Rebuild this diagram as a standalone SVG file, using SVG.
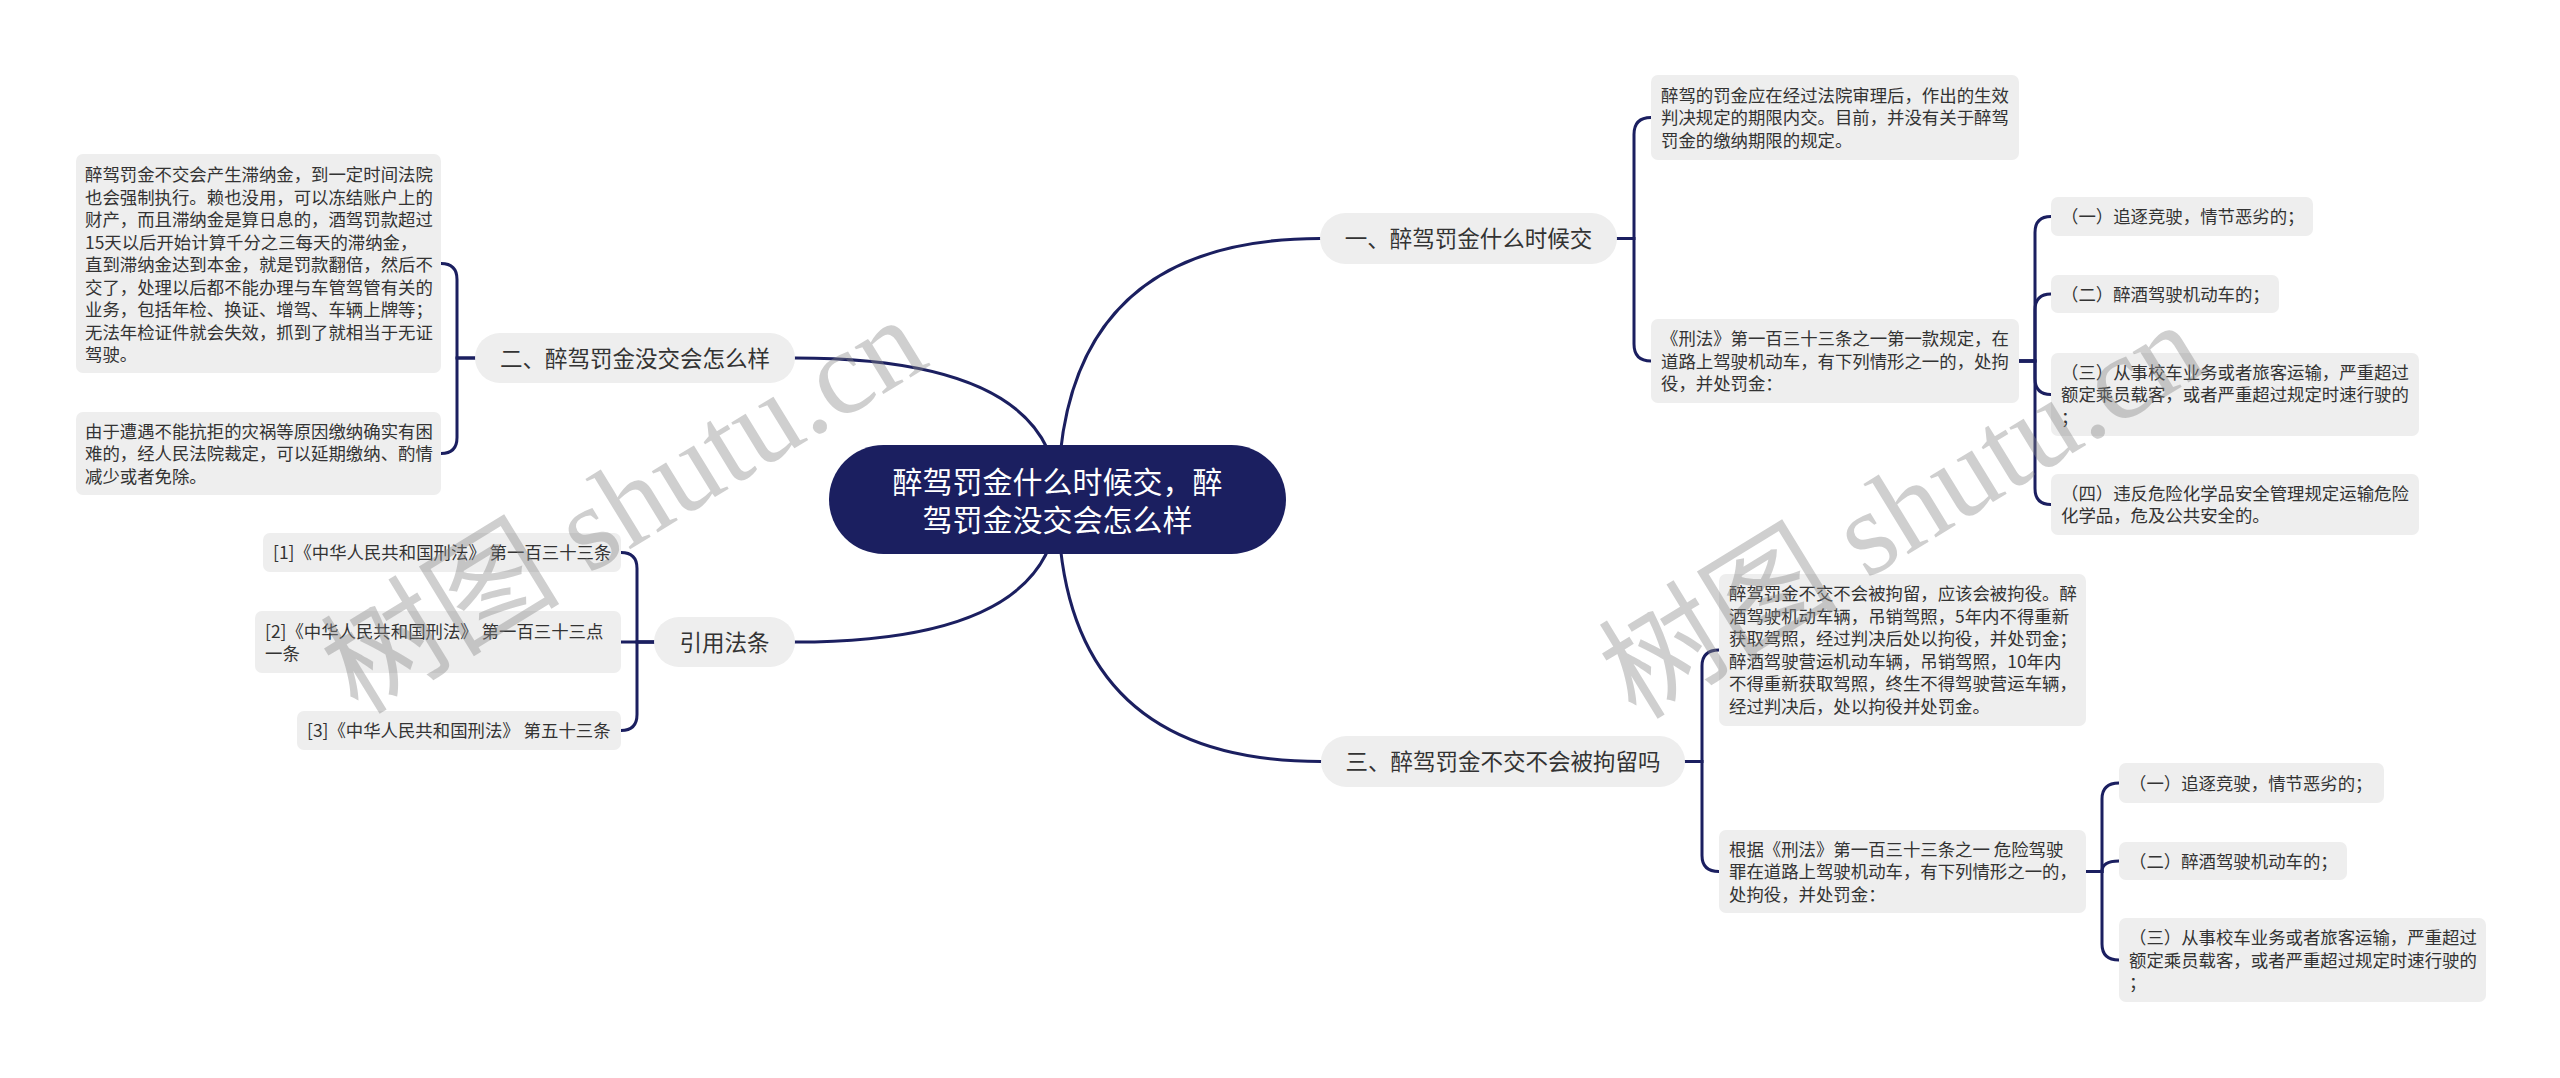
<svg xmlns="http://www.w3.org/2000/svg" width="2560" height="1078" viewBox="0 0 2560 1078">
<style>
.bg{fill:#ffffff}
.root{fill:#1b1f60}
.rt{fill:#ffffff;font-family:"Noto Sans CJK SC",sans-serif;font-size:30px;text-anchor:middle}
.l1{fill:#eeeeee}
.l1t{fill:#333333;font-family:"Noto Sans CJK SC",sans-serif;font-size:22.5px;text-anchor:middle}
.box{fill:#eeeeee}
.bt{fill:#333333;font-family:"Noto Sans CJK SC",sans-serif;font-size:17.4px}
.ln{fill:none;stroke:#1b1f60;stroke-width:3;stroke-linecap:round}
.wm{fill:#888888;opacity:0.4;font-family:"Liberation Serif","Noto Sans CJK SC",serif;font-size:120px;text-anchor:middle}
</style>
<rect class="bg" x="0" y="0" width="2560" height="1078"/>
<g id="connectors">
<path class="ln" d="M 1058,500 Q 1058,238.5 1320,238.5"/>
<path class="ln" d="M 1058,500 Q 1058,358 795,358"/>
<path class="ln" d="M 1058,500 Q 1058,642 795,642"/>
<path class="ln" d="M 1058,500 Q 1058,761.5 1321,761.5"/>
<path class="ln" d="M 1617,238.5 H 1634 V 134.5 Q 1634,117.5 1651,117.5"/>
<path class="ln" d="M 1617,238.5 H 1634 V 344 Q 1634,361 1651,361"/>
<path class="ln" d="M 2019,361 H 2035 V 232.5 Q 2035,216.5 2051,216.5"/>
<path class="ln" d="M 2019,361 H 2035 V 310 Q 2035,294 2051,294"/>
<path class="ln" d="M 2019,361 H 2035 V 378.5 Q 2035,394.5 2051,394.5"/>
<path class="ln" d="M 2019,361 H 2035 V 488.5 Q 2035,504.5 2051,504.5"/>
<path class="ln" d="M 475,358 H 457 V 279.5 Q 457,263.5 441,263.5"/>
<path class="ln" d="M 475,358 H 457 V 437.5 Q 457,453.5 441,453.5"/>
<path class="ln" d="M 654,642 H 637 V 568.5 Q 637,552.5 621,552.5"/>
<path class="ln" d="M 654,642 H 621"/>
<path class="ln" d="M 654,642 H 637 V 714.5 Q 637,730.5 621,730.5"/>
<path class="ln" d="M 1685,761.5 H 1702 V 666 Q 1702,650 1719,650"/>
<path class="ln" d="M 1685,761.5 H 1702 V 855.5 Q 1702,871.5 1719,871.5"/>
<path class="ln" d="M 2086,871.5 H 2102 V 799 Q 2102,783 2119,783"/>
<path class="ln" d="M 2086,871.5 H 2102 Q 2102,861 2119,861"/>
<path class="ln" d="M 2086,871.5 H 2102 V 944 Q 2102,960 2119,960"/>
</g>
<g id="root">
<rect class="root" x="829" y="445" width="457" height="109" rx="54.5"/>
<text class="rt"><tspan x="1057.5" y="493.4">醉驾罚金什么时候交，醉</tspan><tspan x="1057.5" y="531.4">驾罚金没交会怎么样</tspan></text>
</g>
<g id="n1">
<rect class="l1" x="1320" y="213" width="297" height="51" rx="25.5"/>
<text class="l1t" x="1468.5" y="247">一、醉驾罚金什么时候交</text>
</g>
<g id="n2">
<rect class="l1" x="475" y="333" width="320" height="50" rx="25"/>
<text class="l1t" x="635" y="366.5">二、醉驾罚金没交会怎么样</text>
</g>
<g id="n3">
<rect class="l1" x="654" y="617" width="141" height="50" rx="25"/>
<text class="l1t" x="724.5" y="650.5">引用法条</text>
</g>
<g id="n4">
<rect class="l1" x="1321" y="736" width="364" height="51" rx="25.5"/>
<text class="l1t" x="1503" y="770">三、醉驾罚金不交不会被拘留吗</text>
</g>
<g id="n1a">
<rect class="box" x="1651" y="75" width="368" height="85" rx="7"/>
<text class="bt"><tspan x="1661" y="101.6">醉驾的罚金应在经过法院审理后，作出的生效</tspan><tspan x="1661" y="124.1">判决规定的期限内交。目前，并没有关于醉驾</tspan><tspan x="1661" y="146.6">罚金的缴纳期限的规定。</tspan></text>
</g>
<g id="n1b">
<rect class="box" x="1651" y="319" width="368" height="84" rx="7"/>
<text class="bt"><tspan x="1661" y="345.1">《刑法》第一百三十三条之一第一款规定，在</tspan><tspan x="1661" y="367.6">道路上驾驶机动车，有下列情形之一的，处拘</tspan><tspan x="1661" y="390.1">役，并处罚金：</tspan></text>
</g>
<g id="n1b1">
<rect class="box" x="2051" y="197" width="262" height="39" rx="7"/>
<text class="bt" x="2061" y="223.1">（一）追逐竞驶，情节恶劣的；</text>
</g>
<g id="n1b2">
<rect class="box" x="2051" y="275" width="228" height="38" rx="7"/>
<text class="bt" x="2061" y="300.6">（二）醉酒驾驶机动车的；</text>
</g>
<g id="n1b3">
<rect class="box" x="2051" y="353" width="368" height="83" rx="7"/>
<text class="bt"><tspan x="2061" y="378.6">（三）从事校车业务或者旅客运输，严重超过</tspan><tspan x="2061" y="401.1">额定乘员载客，或者严重超过规定时速行驶的</tspan><tspan x="2061" y="423.6">；</tspan></text>
</g>
<g id="n1b4">
<rect class="box" x="2051" y="474" width="368" height="61" rx="7"/>
<text class="bt"><tspan x="2061" y="499.9">（四）违反危险化学品安全管理规定运输危险</tspan><tspan x="2061" y="522.4">化学品，危及公共安全的。</tspan></text>
</g>
<g id="n2a">
<rect class="box" x="76" y="154" width="365" height="219" rx="7"/>
<text class="bt"><tspan x="85" y="181.1">醉驾罚金不交会产生滞纳金，到一定时间法院</tspan><tspan x="85" y="203.6">也会强制执行。赖也没用，可以冻结账户上的</tspan><tspan x="85" y="226.1">财产，而且滞纳金是算日息的，酒驾罚款超过</tspan><tspan x="85" y="248.6">15天以后开始计算千分之三每天的滞纳金，</tspan><tspan x="85" y="271.1">直到滞纳金达到本金，就是罚款翻倍，然后不</tspan><tspan x="85" y="293.6">交了，处理以后都不能办理与车管驾管有关的</tspan><tspan x="85" y="316.1">业务，包括年检、换证、增驾、车辆上牌等；</tspan><tspan x="85" y="338.6">无法年检证件就会失效，抓到了就相当于无证</tspan><tspan x="85" y="361.1">驾驶。</tspan></text>
</g>
<g id="n2b">
<rect class="box" x="76" y="412" width="365" height="83" rx="7"/>
<text class="bt"><tspan x="85" y="437.6">由于遭遇不能抗拒的灾祸等原因缴纳确实有困</tspan><tspan x="85" y="460.1">难的，经人民法院裁定，可以延期缴纳、酌情</tspan><tspan x="85" y="482.6">减少或者免除。</tspan></text>
</g>
<g id="n3a">
<rect class="box" x="263" y="533" width="358" height="39" rx="7"/>
<text class="bt" x="273" y="559.1">[1]《中华人民共和国刑法》 第一百三十三条</text>
</g>
<g id="n3b">
<rect class="box" x="255" y="611" width="366" height="62" rx="7"/>
<text class="bt"><tspan x="265" y="637.6">[2]《中华人民共和国刑法》 第一百三十三点</tspan><tspan x="265" y="660.1">一条</tspan></text>
</g>
<g id="n3c">
<rect class="box" x="297" y="711" width="324" height="39" rx="7"/>
<text class="bt" x="307" y="737.1">[3]《中华人民共和国刑法》 第五十三条</text>
</g>
<g id="n4a">
<rect class="box" x="1719" y="574" width="367" height="152" rx="7"/>
<text class="bt"><tspan x="1729" y="600.4">醉驾罚金不交不会被拘留，应该会被拘役。醉</tspan><tspan x="1729" y="622.9">酒驾驶机动车辆，吊销驾照，5年内不得重新</tspan><tspan x="1729" y="645.4">获取驾照，经过判决后处以拘役，并处罚金；</tspan><tspan x="1729" y="667.9">醉酒驾驶营运机动车辆，吊销驾照，10年内</tspan><tspan x="1729" y="690.4">不得重新获取驾照，终生不得驾驶营运车辆，</tspan><tspan x="1729" y="712.9">经过判决后，处以拘役并处罚金。</tspan></text>
</g>
<g id="n4b">
<rect class="box" x="1719" y="830" width="367" height="83" rx="7"/>
<text class="bt"><tspan x="1729" y="855.6">根据《刑法》第一百三十三条之一 危险驾驶</tspan><tspan x="1729" y="878.1">罪在道路上驾驶机动车，有下列情形之一的，</tspan><tspan x="1729" y="900.6">处拘役，并处罚金：</tspan></text>
</g>
<g id="n4b1">
<rect class="box" x="2119" y="763" width="265" height="40" rx="7"/>
<text class="bt" x="2129" y="789.6">（一）追逐竞驶，情节恶劣的；</text>
</g>
<g id="n4b2">
<rect class="box" x="2119" y="842" width="228" height="38" rx="7"/>
<text class="bt" x="2129" y="867.6">（二）醉酒驾驶机动车的；</text>
</g>
<g id="n4b3">
<rect class="box" x="2119" y="918" width="367" height="84" rx="7"/>
<text class="bt"><tspan x="2129" y="944.1">（三）从事校车业务或者旅客运输，严重超过</tspan><tspan x="2129" y="966.6">额定乘员载客，或者严重超过规定时速行驶的</tspan><tspan x="2129" y="989.1">；</tspan></text>
</g>
<g id="watermarks">
<text class="wm" x="645" y="540" transform="rotate(-31.5 645 540)">树图 shutu.cn</text>
<text class="wm" x="1923" y="545" transform="rotate(-31.5 1923 545)">树图 shutu.cn</text>
</g>
</svg>
